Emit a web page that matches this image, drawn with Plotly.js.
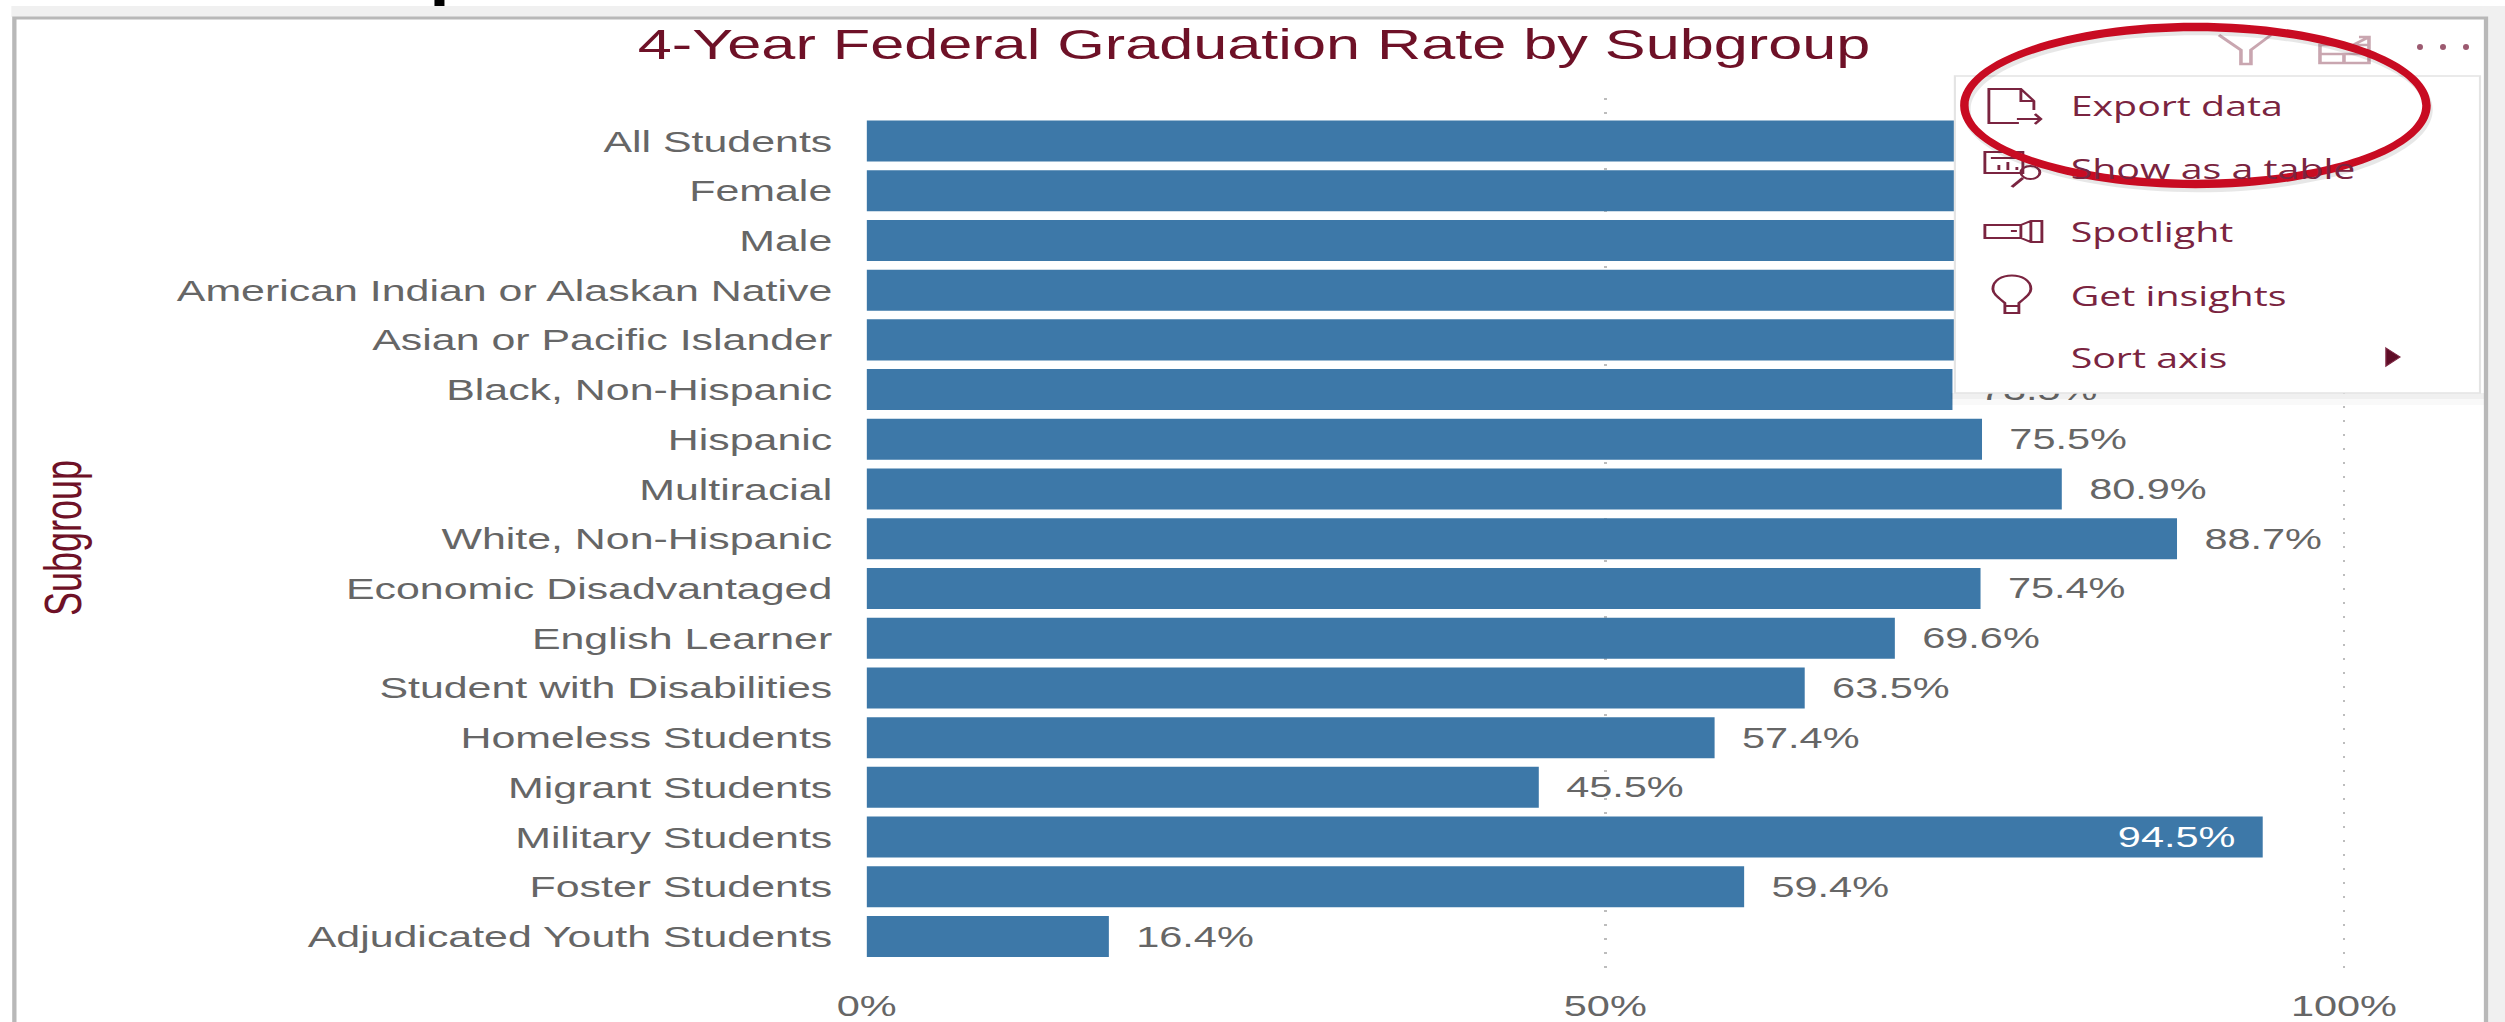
<!DOCTYPE html>
<html><head><meta charset="utf-8">
<script src="https://cdn.plot.ly/plotly-3.0.1.min.js"></script>
<style>html,body{margin:0;padding:0;background:#fff;overflow:hidden;width:2505px;height:1022px}#c{transform-origin:0 0}</style>
</head><body><div id="c"></div>
<script>
// Data (values for the first five rows are hidden by the menu in the source and are estimates)
const categories = ["All Students","Female","Male","American Indian or Alaskan Native","Asian or Pacific Islander","Black, Non-Hispanic","Hispanic","Multiracial","White, Non-Hispanic","Economic Disadvantaged","English Learner","Student with Disabilities","Homeless Students","Migrant Students","Military Students","Foster Students","Adjudicated Youth Students"];
const rates = [83.1,85.9,80.5,77.0,92.0,73.5,75.5,80.9,88.7,75.4,69.6,63.5,57.4,45.5,94.5,59.4,16.4];
const xTicks = [0,50,100];
const xTickLabels = ["0%","50%","100%"];
const menuItems = ["Export data","Show as a table","Spotlight","Get insights","Sort axis"];

// The source screenshot is stretched horizontally; the whole page is stretched the same way.
const S=1.43;
const W=2505,H=1022,L=866,R=2420,T=98,B=978,STEP=49.72;
const c=document.getElementById('c');
c.style.width=(W/S)+'px';c.style.height=H+'px';c.style.transform='scaleX('+S+')';
const px=x=>(x-L)/(R-L), py=y=>1-(y-T)/(B-T);
const rect=(x0,y0,x1,y1,fill,line,lw,extra)=>Object.assign({type:'rect',xref:'paper',yref:'paper',layer:'above',x0:px(x0),x1:px(x1),y0:py(y0),y1:py(y1),fillcolor:fill||'rgba(0,0,0,0)',line:{color:line||'rgba(0,0,0,0)',width:lw||0}},extra||{});
const path=(pts,line,lw,fill,extra)=>Object.assign({type:'path',xref:'paper',yref:'paper',layer:'above',path:pts.replace(/(-?[\d.]+),(-?[\d.]+)/g,(m,a,b)=>px(+a)+','+py(+b)),line:{color:line,width:lw},fillcolor:fill||'rgba(0,0,0,0)'},extra||{});
const oval=(x0,y0,x1,y1,line,lw,fill)=>({type:'circle',xref:'paper',yref:'paper',layer:'above',x0:px(x0),x1:px(x1),y0:py(y1),y1:py(y0),line:{color:line||'rgba(0,0,0,0)',width:lw||0},fillcolor:fill||'rgba(0,0,0,0)'});
const ell=(cx,cy,a,b)=>{const k=0.5523;return `M${cx-a},${cy} C${cx-a},${cy-k*b} ${cx-k*a},${cy-b} ${cx},${cy-b} C${cx+k*a},${cy-b} ${cx+a},${cy-k*b} ${cx+a},${cy} C${cx+a},${cy+k*b} ${cx+k*a},${cy+b} ${cx},${cy+b} C${cx-k*a},${cy+b} ${cx-a},${cy+k*b} ${cx-a},${cy} Z `;};
const maroon='#7a2440', faint='#c9a6b0', red='#c80b22';
const ECX=2194.5,ECY=105.5,EA=231,EB=78.5,ET=8.5;
const shapes=[
 // page frame and background bands
 rect(11,6,W,17,'#f0f0f0',null,0,{layer:'below'}),
 rect(2487,6,W,H,'#f0f0f0',null,0,{layer:'below'}),
 rect(14,18,2485,1040,'#ffffff','#b8b8b8',3,{layer:'below'}),
 rect(434,0,444,6,'#000000'),
 // header icons
 path('M2218,35 L2240,50 L2240,64 L2250,64 L2250,50 L2270,35',faint,2.5),
 path('M2319,45 L2368,45 L2368,63 L2319,63 Z M2319,54 L2368,54 M2343,54 L2343,63 M2350,46 L2368,37 M2358,37 L2368,37 L2368,44',faint,2.5),
 oval(2416,44,2422,50,null,0,'#9c5a70'),
 oval(2439,44,2445,50,null,0,'#9c5a70'),
 oval(2462,44,2468,50,null,0,'#9c5a70'),
 // context menu with a soft shadow
 rect(1950,393,2483,405,'rgba(0,0,0,0.025)'),
 rect(1950,393,2483,399,'rgba(0,0,0,0.035)'),
 rect(1954,76,2479,393,'#ffffff','#e4e4e4',1.5),
 // Export icon
 path('M2018,123 L1988,123 L1988,89 L2020,89 L2033,101 L2033,110 M2020,89 L2020,101 L2033,101 M2016,119 L2040,119 M2034,114 L2040,119 L2034,124',maroon,2),
 // table icon
 path('M1984,152 L2022,152 L2022,173 L1984,173 Z M1990,158 L2030,158 M1998,170 L1998,165 M2007,170 L2007,162 M2016,170 L2016,167',maroon,2),
 path('M2011,187 L2022,178',maroon,2.5),
 oval(2020,166,2039,179,maroon,2),
 // Spotlight icon
 path('M1984,225 L2020,225 L2020,238 L1984,238 Z M2020,225 L2030,221 L2041,221 L2041,242 L2030,242 L2020,238 M2030,221 L2030,242 M2010,231 L2016,231',maroon,2),
 // Insights icon
 path('M2004,313 L2018,313 L2018,303 C2024,298 2030,294 2030,289 C2030,271 1992,271 1992,289 C1992,294 1998,298 2004,303 Z M2004,306 L2018,306',maroon,2),
 // Sort arrow
 path('M2385,348 L2399,357 L2385,366 Z',maroon,1,'#5e0c26'),
 // Red ellipse, its ring drawn as a filled band so it keeps an even thickness
 path(ell(ECX+2,ECY+4,EA+ET/2,EB+ET/2)+ell(ECX+2,ECY+4,EA-ET/2,EB-ET/2),'rgba(0,0,0,0)',0,'rgba(60,60,60,0.12)',{fillrule:'evenodd'}),
 path(ell(ECX,ECY,EA+ET/2,EB+ET/2)+ell(ECX,ECY,EA-ET/2,EB-ET/2),'rgba(0,0,0,0)',0,red,{fillrule:'evenodd'})
];
const menuY=[106,168,231,295,358];
const annotations=menuItems.map((t,i)=>({text:t,xref:'paper',yref:'paper',x:px(2067),y:py(menuY[i]),xanchor:'left',yanchor:'middle',showarrow:false,font:{family:'Open Sans, Noto Sans',size:27.5,color:maroon}}));

const pad='\u00a0\u00a0';
const isInside=categories.map(k=>k==="Military Students");
const labels=rates.map((v,i)=>isInside[i]?(v.toFixed(1)+'%'+pad):(pad+v.toFixed(1)+'%'));
const band=(B-T)/STEP, first=-(141-T)/STEP;
Plotly.newPlot('c',[{
  type:'bar',orientation:'h',y:categories,x:rates,
  marker:{color:'#3d78a8'},
  text:labels,
  textposition:isInside.map(b=>b?'inside':'outside'),
  insidetextanchor:'end',constraintext:'none',cliponaxis:false,
  textangle:0,
  textfont:{family:'Liberation Sans',size:29,color:isInside.map(b=>b?'#ffffff':'#666666')},
  hoverinfo:'skip'
}],{
  width:W/S,height:H,paper_bgcolor:'#ffffff',plot_bgcolor:'rgba(0,0,0,0)',
  margin:{l:L/S,r:(W-R)/S,t:T,b:H-B,pad:0},
  showlegend:false,bargap:0.175,
  title:{text:'4-Year Federal Graduation Rate by Subgroup',x:1254/W,xanchor:'center',y:1-44/H,yanchor:'middle',font:{family:'Liberation Sans',size:42.8,color:'#6e1127'}},
  xaxis:{range:[0,(R-L)/14.77],tickvals:xTicks,ticktext:xTickLabels,showgrid:true,gridcolor:'#bdbdbd',gridwidth:2,griddash:'2px,12px',zeroline:false,showline:false,ticks:'outside',ticklen:2,tickcolor:'rgba(0,0,0,0)',tickfont:{family:'Liberation Sans',size:29,color:'#666666'},automargin:false},
  yaxis:{range:[first+band,first],type:'category',categoryorder:'array',categoryarray:categories,showgrid:false,zeroline:false,showline:false,ticks:'outside',ticklen:17,tickcolor:'rgba(0,0,0,0)',tickfont:{family:'Liberation Sans',size:30,color:'#666666'},automargin:false,
    title:{text:'Subgroup',standoff:55,font:{family:'Liberation Sans',size:36,color:'#6e1127'}}},
  shapes,annotations
},{displayModeBar:false,responsive:false});
</script></body></html>
